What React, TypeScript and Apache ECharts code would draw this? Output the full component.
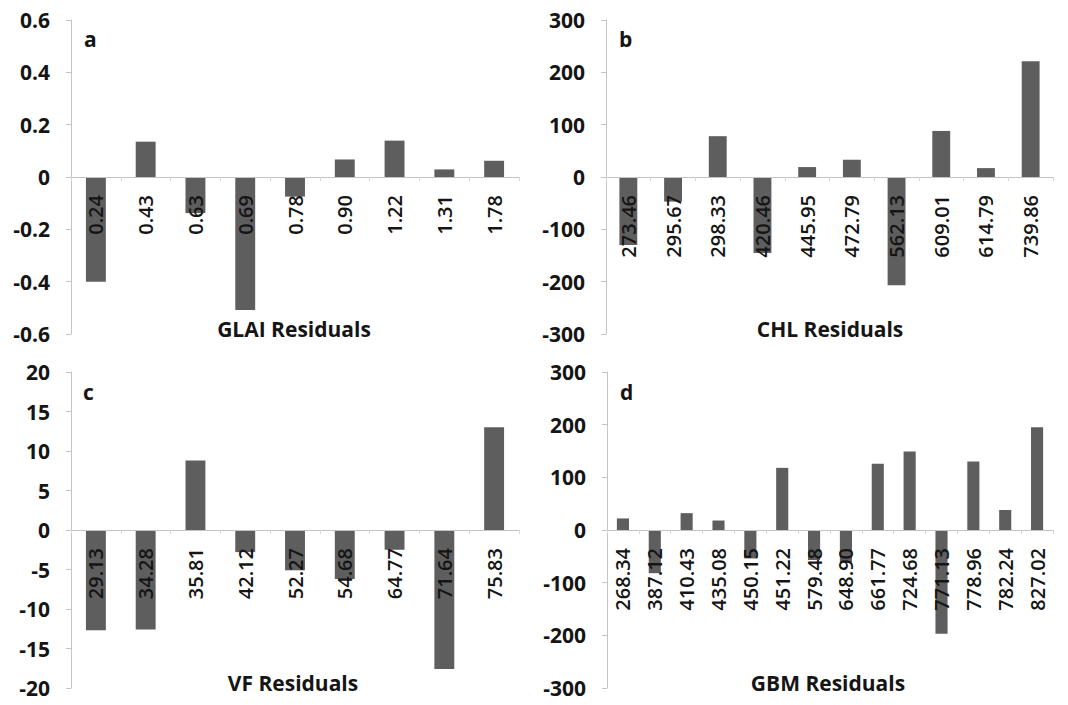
import React, { useEffect, useRef } from "react";
import * as echarts from "echarts";

const catsA = ["0.24", "0.43", "0.63", "0.69", "0.78", "0.90", "1.22", "1.31", "1.78"];
const valsA = [-0.4, 0.135, -0.138, -0.508, -0.075, 0.067, 0.139, 0.029, 0.062];

const catsB = ["273.46", "295.67", "298.33", "420.46", "445.95", "472.79", "562.13", "609.01", "614.79", "739.86"];
const valsB = [-130, -47, 78, -145, 19, 33, -207, 88, 17, 221];

const catsC = ["29.13", "34.28", "35.81", "42.12", "52.27", "54.68", "64.77", "71.64", "75.83"];
const valsC = [-12.7, -12.6, 8.8, -2.8, -5.1, -6.2, -2.5, -17.6, 13.0];

const catsD = ["268.34", "387.12", "410.43", "435.08", "450.15", "451.22", "579.48", "648.90", "661.77", "724.68", "771.13", "778.96", "782.24", "827.02"];
const valsD = [22, -82, 32, 18, -54, 118, -57, -62, 126, 149, -197, 130, 38, 195];

const panelLetters = ["a", "b", "c", "d"];
const panelTitles = ["GLAI Residuals", "CHL Residuals", "VF Residuals", "GBM Residuals"];
const yRanges = [
  { min: -0.6, max: 0.6, interval: 0.2 },
  { min: -300, max: 300, interval: 100 },
  { min: -20, max: 20, interval: 5 },
  { min: -300, max: 300, interval: 100 },
];

const FONT = "'Open Sans', Lato, sans-serif";
const TEXT = "#151515";
const AXIS = "#c4c4c4";
const BAR = "#5e5e5e";

export default function App() {
  const ref = useRef<HTMLDivElement>(null);
  useEffect(() => {
    if (!ref.current) return;
    const chart = echarts.init(ref.current, undefined, { renderer: "svg" });
    const cats = [catsA, catsB, catsC, catsD];
    const vals = [valsA, valsB, valsC, valsD];
    const grids = [
      { left: 71, top: 20, width: 448, height: 314 },
      { left: 606, top: 20, width: 447, height: 314 },
      { left: 71, top: 372, width: 448, height: 316 },
      { left: 607, top: 372, width: 446, height: 316 },
    ];
    const letterPos = [
      { left: 84, top: 28 },
      { left: 619, top: 28 },
      { left: 83, top: 381 },
      { left: 620, top: 381 },
    ];
    const titlePos = [
      { x: 294, y: 329 },
      { x: 830, y: 329 },
      { x: 293, y: 683 },
      { x: 828, y: 683 },
    ];
    const option: any = {
      animation: false,
      grid: grids.map((g) => ({ ...g, containLabel: false })),
      xAxis: cats.map((c, i) => ({
        type: "category",
        gridIndex: i,
        data: c,
        z: 5,
        position: "bottom",
        offset: -grids[i].height / 2,
        axisLine: { onZero: false, lineStyle: { color: AXIS, width: 1 } },
        axisTick: { show: true, length: 4, lineStyle: { color: "#d6d6d6" } },
        axisLabel: {
          rotate: 90,
          margin: 18,
          interval: 0,
          fontFamily: FONT,
          fontSize: 20,
          fontWeight: 600,
          color: TEXT,
        },
        splitLine: { show: false },
      })),
      yAxis: yRanges.map((r, i) => ({
        type: "value",
        gridIndex: i,
        min: r.min,
        max: r.max,
        interval: r.interval,
        axisLine: { show: true, lineStyle: { color: AXIS, width: 1 } },
        axisTick: { show: true, length: 5, lineStyle: { color: AXIS } },
        axisLabel: {
          margin: 21,
          fontFamily: FONT,
          fontSize: 21,
          fontWeight: "bold",
          color: TEXT,
          formatter: (v: number) => {
            const n = Math.round(v * 1000) / 1000;
            return String(n);
          },
        },
        splitLine: { show: false },
      })),
      series: vals.map((v, i) => ({
        type: "bar",
        xAxisIndex: i,
        yAxisIndex: i,
        data: v,
        barWidth: i === 3 ? "38%" : "40%",
        itemStyle: { color: BAR },
        z: 2,
      })),
      graphic: [
        ...panelLetters.map((t, i) => ({
          type: "text",
          left: letterPos[i].left,
          top: letterPos[i].top,
          style: { text: t, font: `bold 21px ${FONT}`, fill: TEXT },
        })),
        ...panelTitles.map((t, i) => ({
          type: "text",
          x: titlePos[i].x,
          y: titlePos[i].y,
          style: {
            text: t,
            font: `bold 21px ${FONT}`,
            fill: TEXT,
            align: "center",
            verticalAlign: "middle",
          },
        })),
      ],
    };
    chart.setOption(option);
    return () => chart.dispose();
  }, []);
  return (
    <div
      ref={ref}
      style={{ position: "absolute", left: 0, top: 0, width: 1068, height: 705, background: "#fff" }}
    />
  );
}
